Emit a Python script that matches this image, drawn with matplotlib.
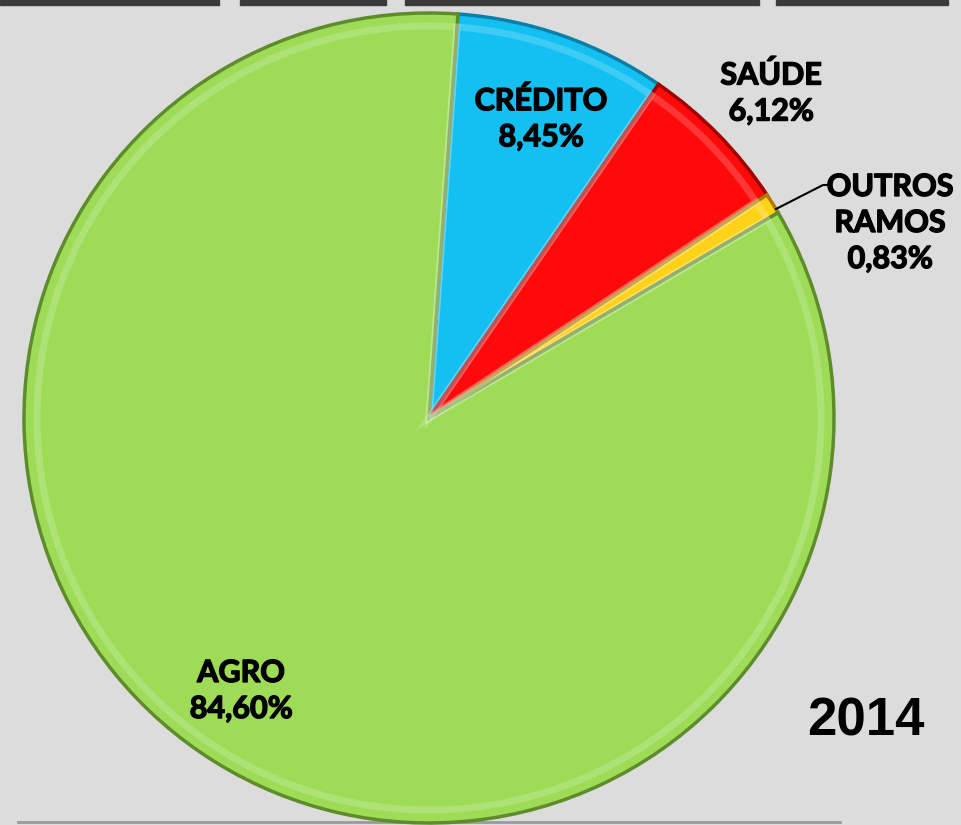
import matplotlib.pyplot as plt
import matplotlib.patheffects as pe
from matplotlib.patches import Rectangle

# Fatias do grafico (ordem horaria a partir do topo)
ramos = ['CRÉDITO', 'SAÚDE', 'OUTROS\nRAMOS', 'AGRO']
valores = [8.45, 6.12, 0.83, 84.60]
rotulos = ['8,45%', '6,12%', '0,83%', '84,60%']
cores = ['#14c0f2', '#ff0a0a', '#ffd21a', '#9edc58']
bordas = ['#0a7fa8', '#a00000', '#b07a00', '#5f8c2a']
ano = '2014'

fig = plt.figure(figsize=(9.62, 8.25), dpi=100)
fig.patch.set_facecolor('#dcdcdc')
ax = fig.add_axes([0, 0, 1, 1])
ax.set_facecolor('#dcdcdc')

# faixas escuras no topo e linha na base (restos do painel)
for x0, x1 in [(0, 219), (240, 386), (405, 759), (776, 948)]:
    ax.add_patch(Rectangle((x0, 820), x1 - x0, 5, color='#3a3a3a', zorder=0))
ax.plot([18, 840], [3, 3], color='#9a9a9a', lw=2, zorder=0)

wedges, _ = ax.pie(valores, colors=cores, startangle=85.9, counterclock=False,
                   center=(429, 407), radius=405, frame=True,
                   wedgeprops=dict(linewidth=2.5))
for w, b in zip(wedges, bordas):
    w.set_edgecolor(b)

# brilho interno (efeito de relevo)
hl, _ = ax.pie(valores, colors=['none'] * len(valores), startangle=85.9,
               counterclock=False, center=(429, 407), radius=392, frame=True,
               wedgeprops=dict(linewidth=5, fill=False))
for w in hl:
    w.set_edgecolor((1, 1, 1, 0.18))

ax.set_xlim(0, 962)
ax.set_ylim(0, 825)
ax.set_aspect('equal')
ax.axis('off')

grosso = [pe.withStroke(linewidth=1.0, foreground='black')]
fonte = dict(family=['Lato', 'DejaVu Sans'], fontweight='bold', fontsize=22,
             color='black', ha='center', va='center', linespacing=1.35,
             path_effects=grosso)

ax.text(541, 706, ramos[0] + '\n' + rotulos[0], **fonte)
ax.text(771, 732, ramos[1] + '\n' + rotulos[1], **fonte)
ax.text(890, 602, ramos[2] + '\n' + rotulos[2], **fonte)
ax.text(241, 134, ramos[3] + '\n' + rotulos[3], **fonte)

# linha de chamada para OUTROS RAMOS
ax.plot([776, 823, 829], [616, 640, 640], color='black', lw=1.5)

ax.text(866, 103, ano, family=['Liberation Sans Narrow', 'Liberation Sans', 'DejaVu Sans'],
        fontweight='bold', fontsize=38, ha='center', va='center', color='black')

fig.savefig('out.png', dpi=100, facecolor=fig.get_facecolor())
